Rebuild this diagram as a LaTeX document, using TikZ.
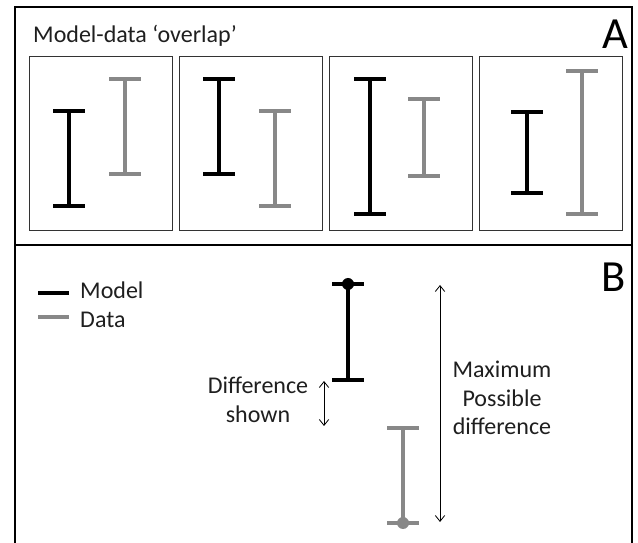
\documentclass[tikz,border=0pt]{standalone}
\usepackage{fontspec}
\setmainfont{Carlito}
\usetikzlibrary{arrows.meta}
\definecolor{datagray}{RGB}{136,136,136}
\begin{document}
\begin{tikzpicture}[x=0.03cm, y=-0.03cm,
    txt/.style={font=\fontsize{20.5}{24.5}\selectfont, inner sep=0pt, align=center, text=black!88},
    panellbl/.style={font=\fontsize{38}{40}\selectfont, inner sep=0pt},
    modelbar/.style={line width=3.4pt, black},
    databar/.style={line width=3.4pt, datagray},
    dimarrow/.style={line width=0.7pt, {Straight Barb[length=5pt,width=8pt]}-{Straight Barb[length=5pt,width=8pt]}}]
    % Definitions
    \def\halfcap{16}
    \useasboundingbox (0,0) rectangle (638,543);

    % --- PANEL FRAME ---
    \draw[line width=1.7pt] (15,543) -- (15,7.5) -- (632,7.5) -- (632,543);
    \draw[line width=1.7pt] (15,245) -- (632,245);

    % --- PANEL A ---
    \node[txt, anchor=west] (title) at (33,36) {Model-data ‘overlap’};
    \node[panellbl, anchor=east] (lblA) at (628,34) {A};

    % inner boxes
    \foreach \bx in {29,179.5,329,479} {
        \draw[line width=0.8pt, black!80] (\bx,56) rectangle ++(143,174);
    }

    % model (black) and data (gray) bars
    \foreach \mx/\mt/\mb/\dx/\dt/\db in {
        69/111/206/125/79/174,
        219/79/174/275/111/206,
        370/79/214/424/99/176,
        527/112/193/582/71/214
    } {
        \draw[modelbar] (\mx,\mt) -- (\mx,\mb);
        \draw[modelbar] (\mx-\halfcap,\mt) -- (\mx+\halfcap,\mt);
        \draw[modelbar] (\mx-\halfcap,\mb) -- (\mx+\halfcap,\mb);
        \draw[databar] (\dx,\dt) -- (\dx,\db);
        \draw[databar] (\dx-\halfcap,\dt) -- (\dx+\halfcap,\dt);
        \draw[databar] (\dx-\halfcap,\db) -- (\dx+\halfcap,\db);
    }

    % --- PANEL B ---
    \node[panellbl, anchor=east] (lblB) at (626,277) {B};

    % legend
    \draw[modelbar] (38,293) -- (69,293);
    \node[txt, anchor=west] (legmodel) at (80,290) {Model};
    \draw[databar] (38,317) -- (69,317);
    \node[txt, anchor=west] (legdata) at (80,320) {Data};

    % bar ends
    \coordinate (mtop) at (348,284);
    \coordinate (mbot) at (348,380);
    \coordinate (dtop) at (403,428);
    \coordinate (dbot) at (403,523);

    \draw[modelbar] (mtop) -- (mbot);
    \draw[modelbar] ([xshift=-0.48cm]mtop) -- ([xshift=0.48cm]mtop);
    \draw[modelbar] ([xshift=-0.48cm]mbot) -- ([xshift=0.48cm]mbot);
    \fill[black] (mtop) circle[radius=0.18cm];

    \draw[databar] (dtop) -- (dbot);
    \draw[databar] ([xshift=-0.48cm]dtop) -- ([xshift=0.48cm]dtop);
    \draw[databar] ([xshift=-0.48cm]dbot) -- ([xshift=0.48cm]dbot);
    \fill[datagray] (dbot) circle[radius=0.18cm];

    % difference arrows
    \coordinate (dsA) at (324,381);
    \coordinate (dsB) at (324,426);
    \draw[dimarrow] (dsA) -- (dsB);
    \node[txt] (diffshown) at (258,400) {Difference\\shown};

    \coordinate (maxA) at (440,285);
    \coordinate (maxB) at (440,522);
    \draw[dimarrow] (maxA) -- (maxB);
    \node[txt] (maxdiff) at (502,398) {Maximum\\Possible\\difference};
\end{tikzpicture}
\end{document}
